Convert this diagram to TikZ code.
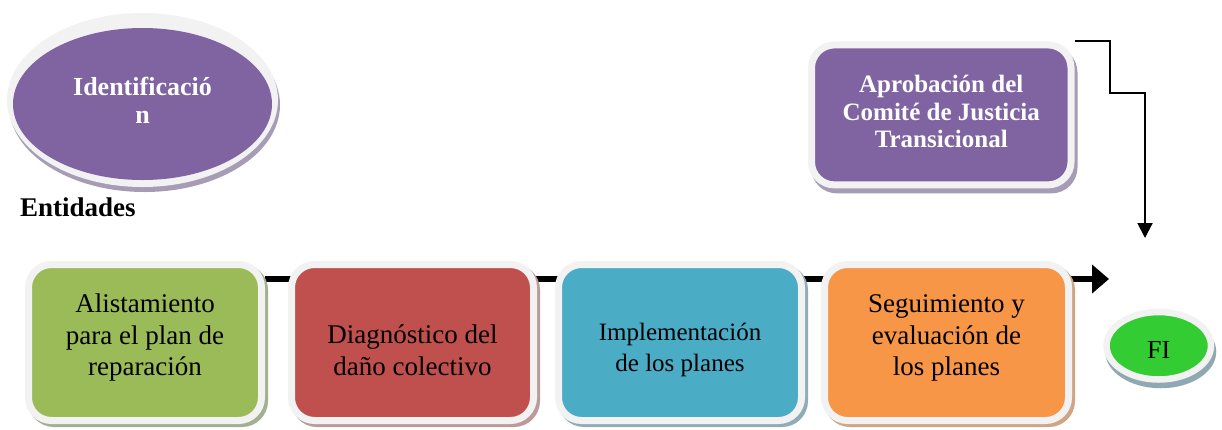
\documentclass[tikz,border=0pt]{standalone}
\usepackage{fontspec}
\setmainfont{Liberation Serif}
\usetikzlibrary{shapes.geometric,arrows.meta,backgrounds}
\definecolor{cpurple}{HTML}{8064A2}
\definecolor{cgreen}{HTML}{9BBB59}
\definecolor{cred}{HTML}{C0504D}
\definecolor{cblue}{HTML}{4BACC6}
\definecolor{corange}{HTML}{F79646}
\definecolor{cfi}{HTML}{33CC33}
\definecolor{cframe}{HTML}{F2F2F2}
\definecolor{shgreen}{HTML}{A4AE90}
\definecolor{shred}{HTML}{BC9A9A}
\definecolor{shblue}{HTML}{8FADB8}
\definecolor{shorange}{HTML}{CFA585}
\definecolor{shpurple}{HTML}{A79CB6}
\definecolor{shfi}{HTML}{8FA9B3}
\newcommand\boxshade[3]{\fill[#2, rounded corners=26pt] ([xshift=3pt,yshift=-#3]#1.north west) rectangle ([xshift=3pt,yshift=-#3]#1.south east);}
\tikzset{
  stepbox/.style={rectangle, rounded corners=23pt, draw=cframe, line width=7pt, inner sep=0pt},
  boxtxt/.style={align=center, inner sep=0pt, text=black, font=\fontsize{27}{31.5}\selectfont},
  smalltxt/.style={align=center, inner sep=0pt, text=black, font=\fontsize{25}{31}\selectfont},
  boldtxt/.style={align=center, inner sep=0pt, text=white, font=\bfseries\fontsize{25}{28.5}\selectfont},
  flow/.style={line width=6pt, draw=black, -{Triangle[length=17pt,width=28pt]}},
  link/.style={line width=2pt, draw=black, -{Triangle[length=15pt,width=15pt]}},
}
\begin{document}
\begin{tikzpicture}[x=1pt,y=-1pt]
\useasboundingbox (0,0) rectangle (1222,429);

% top left ellipse
\node[ellipse, fill=cpurple, minimum width=259pt, minimum height=152pt, inner sep=0pt,
      boldtxt, font=\bfseries\fontsize{26}{28.5}\selectfont] (ident) at (142.5,104)
      {\strut Identificació\\n\strut};
\node[anchor=base west, inner sep=0pt, font=\bfseries\fontsize{27}{32}\selectfont] (ent) at (20,216) {Entidades};

% approval box
\node[stepbox, fill=cpurple, minimum width=259.5pt, minimum height=140pt, boldtxt, font=\bfseries\fontsize{25}{27.5}\selectfont] (ap) at (941.25,114.9)
      {\strut Aprobación del\\Comité de Justicia\\Transicional\strut};

% process boxes
\node[stepbox, fill=cgreen,  minimum width=233pt, minimum height=156pt] (b1) at (145,342.5) {};
\node[stepbox, fill=cred,    minimum width=242pt, minimum height=156pt] (b2) at (412.5,342.5) {};
\node[stepbox, fill=cblue,   minimum width=243pt, minimum height=156pt] (b3) at (680,342.5) {};
\node[stepbox, fill=corange, minimum width=244pt, minimum height=156pt] (b4) at (946.5,342.5) {};

\node[boxtxt] (t1) at ([yshift=4.5pt]b1.center) {\strut Alistamiento\\\strut para el plan de\\\strut reparación};
\node[boxtxt] (t2) at ([yshift=-10.5pt]b2.center) {\strut Diagnóstico del\\\strut daño colectivo};
\node[smalltxt] (t3) at ([yshift=-6.8pt]b3.center) {\strut Implementación\\\strut de los planes};
\node[boxtxt] (t4) at ([yshift=4.5pt]b4.center) {\strut Seguimiento y\\\strut evaluación de\\\strut los planes};

% end ellipse
\node[ellipse, fill=cfi, draw=cframe, line width=6.5pt, minimum width=104.5pt, minimum height=67.5pt, inner sep=0pt,
      text height=24.5pt, text depth=0pt, font=\fontsize{26}{30}\selectfont] (fi) at (1158.75,345.75) {FI};

% connectors
\coordinate (flowend) at (1109,279);
\coordinate (apk) at (1110,93);
\coordinate (apend) at (1145,238);
\draw[link] (ap.north east) -| (apk) -| (apend);

\begin{pgfonlayer}{background}
  \fill[white] (0,0) rectangle (1222,429);
  \draw[flow] (b1.east |- flowend) -- (flowend);
  \fill[shpurple] ([xshift=2pt,yshift=-1pt]ident.center) ellipse [x radius=135.5pt, y radius=87pt];
  \fill[cframe] ([yshift=4pt]ident.center) ellipse [x radius=135.5pt, y radius=87pt];
  \boxshade{ap}{shpurple}{5pt}
  \boxshade{b1}{shgreen}{3pt}
  \boxshade{b2}{shred}{3pt}
  \boxshade{b3}{shblue}{3pt}
  \boxshade{b4}{shorange}{3pt}
  \fill[shfi] ([xshift=2pt,yshift=-6pt]fi.center) ellipse [x radius=55.5pt, y radius=36.5pt];
\end{pgfonlayer}
\end{tikzpicture}
\end{document}
